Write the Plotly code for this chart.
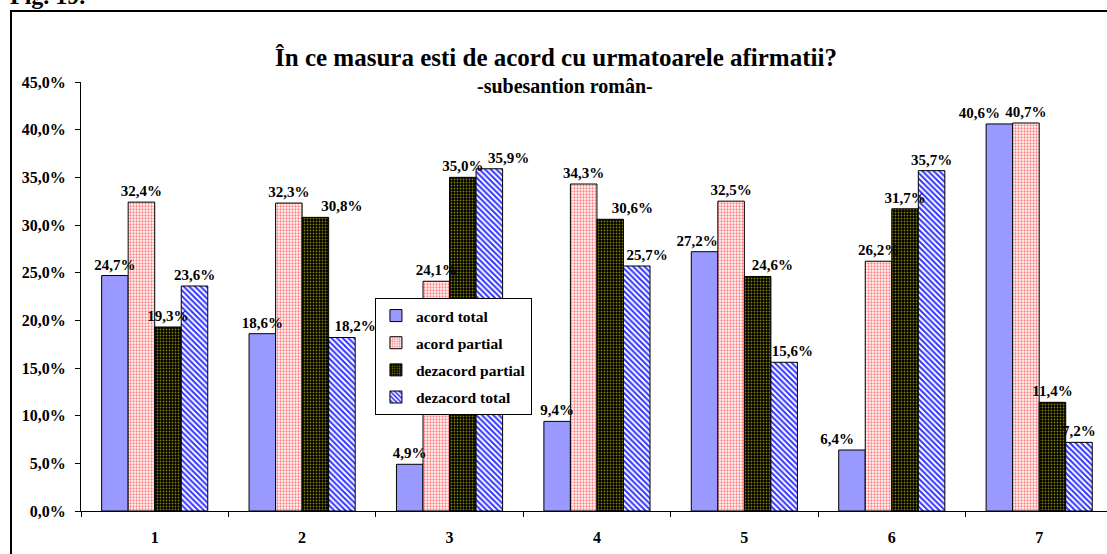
import plotly.graph_objects as go

categories = ["1", "2", "3", "4", "5", "6", "7"]
series_names = ["acord total", "acord partial", "dezacord partial", "dezacord total"]
acord_total = [24.7, 18.6, 4.9, 9.4, 27.2, 6.4, 40.6]
acord_partial = [32.4, 32.3, 24.1, 34.3, 32.5, 26.2, 40.7]
dezacord_partial = [19.3, 30.8, 35.0, 30.6, 24.6, 31.7, 11.4]
dezacord_total = [23.6, 18.2, 35.9, 25.7, 15.6, 35.7, 7.2]
y_tick_vals = [0, 5, 10, 15, 20, 25, 30, 35, 40, 45]
y_tick_text = ["0,0%", "5,0%", "10,0%", "15,0%", "20,0%", "25,0%", "30,0%", "35,0%", "40,0%", "45,0%"]

series = [acord_total, acord_partial, dezacord_partial, dezacord_total]

FONT = "Liberation Serif, Times New Roman, Times, DejaVu Serif, serif"
W = 0.18
offsets = [-2 * W, -W, 0, W]
# horizontal nudges of data labels (in category units), as placed in the original
label_nudge = [
    [0, 0, 0, 0, -0.05, -0.1, -0.135],
    [0, 0, 0, 0, 0, 0, 0],
    [0, 0.18, 0, 0.15, 0.10, 0, 0],
    [0, 0.09, 0.13, 0.07, 0.055, 0, 0],
]

styles = [
    dict(color="#9999FF", pattern=None),
    dict(color="#FFFFFF", pattern=dict(shape=".", fgcolor="#FF8080", bgcolor="#FFFFFF", size=3, solidity=0.45, fillmode="replace")),
    dict(color="#000000", pattern=dict(shape=".", fgcolor="#808000", bgcolor="#000000", size=3, solidity=0.3, fillmode="replace")),
    dict(color="#FFFFFF", pattern=dict(shape="\\", fgcolor="#3333FF", bgcolor="#FFFFFF", size=4, solidity=0.5, fillmode="replace")),
]


def fmt(v):
    return f"{v:.1f}".replace(".", ",") + "%"


fig = go.Figure()
for i, (name, vals, st) in enumerate(zip(series_names, series, styles)):
    marker = dict(color=st["color"], line=dict(color="#000000", width=1))
    if st["pattern"] is not None:
        marker["pattern"] = st["pattern"]
    fig.add_trace(go.Bar(
        x=categories, y=vals, name=name, marker=marker,
        width=W, offset=offsets[i], legendgroup=f"g{i}",
    ))

# label carriers drawn on top of all bars
for i, vals in enumerate(series):
    fig.add_trace(go.Bar(
        x=categories, y=vals, showlegend=False, hoverinfo="skip",
        marker=dict(color="rgba(0,0,0,0)", line=dict(width=0)),
        width=W, offset=[offsets[i] + n for n in label_nudge[i]],
        text=[fmt(v) for v in vals], textposition="outside",
        constraintext="none", cliponaxis=False,
        textfont=dict(family=FONT, size=15, color="#000000", weight="bold"),
    ))

fig.update_layout(
    width=1107, height=554,
    barmode="overlay",
    paper_bgcolor="#FFFFFF", plot_bgcolor="#FFFFFF",
    margin=dict(l=81, r=0, t=82, b=43, pad=0),
    font=dict(family=FONT, color="#000000"),
    legend=dict(
        x=0.2865, y=0.4965, xanchor="left", yanchor="top",
        bgcolor="#FFFFFF", bordercolor="#000000", borderwidth=1,
        font=dict(family=FONT, size=15.5, color="#000000", weight="bold"),
        tracegroupgap=4, itemclick=False,
    ),
    xaxis=dict(
        type="category", range=[-0.5, 6.46], showgrid=False,
        showline=True, linecolor="#000000", linewidth=1,
        ticks="outside", ticklen=5, tickcolor="#000000", tickson="boundaries",
        tickfont=dict(family=FONT, size=16, weight="bold"), ticklabelstandoff=12,
    ),
    yaxis=dict(
        range=[0, 45], showgrid=False, zeroline=False,
        showline=True, linecolor="#000000", linewidth=1,
        ticks="outside", ticklen=5, tickcolor="#000000",
        tickvals=y_tick_vals, ticktext=y_tick_text,
        tickfont=dict(family=FONT, size=16, weight="bold"), ticklabelstandoff=6,
    ),
    annotations=[
        dict(text="<b>În ce masura esti de acord cu urmatoarele afirmatii?</b>",
             xref="paper", yref="paper", x=0.463, y=(511 - 57) / 429, xanchor="center", yanchor="middle",
             showarrow=False, font=dict(family=FONT, size=25, color="#000000")),
        dict(text="<b>-subesantion român-</b>",
             xref="paper", yref="paper", x=0.4717, y=(511 - 86) / 429, xanchor="center", yanchor="middle",
             showarrow=False, font=dict(family=FONT, size=20, color="#000000")),
        dict(text="<b>Fig. 19.</b>",
             xref="paper", yref="paper", x=(8 - 81) / 1026, y=(511 - 11) / 429, xanchor="left", yanchor="bottom",
             showarrow=False, font=dict(family=FONT, size=24, color="#000000")),
    ],
    shapes=[
        dict(type="rect", xref="paper", yref="paper",
             x0=(11 - 81) / 1026, x1=1.05, y0=-0.3, y1=(511 - 11) / 429,
             line=dict(color="#000000", width=2), fillcolor="rgba(0,0,0,0)", layer="below"),
    ],
)

fig.write_html(
    "out.html",
    config={"displayModeBar": False},
    post_script="document.body.style.margin='0';document.body.style.overflow='hidden';",
)
